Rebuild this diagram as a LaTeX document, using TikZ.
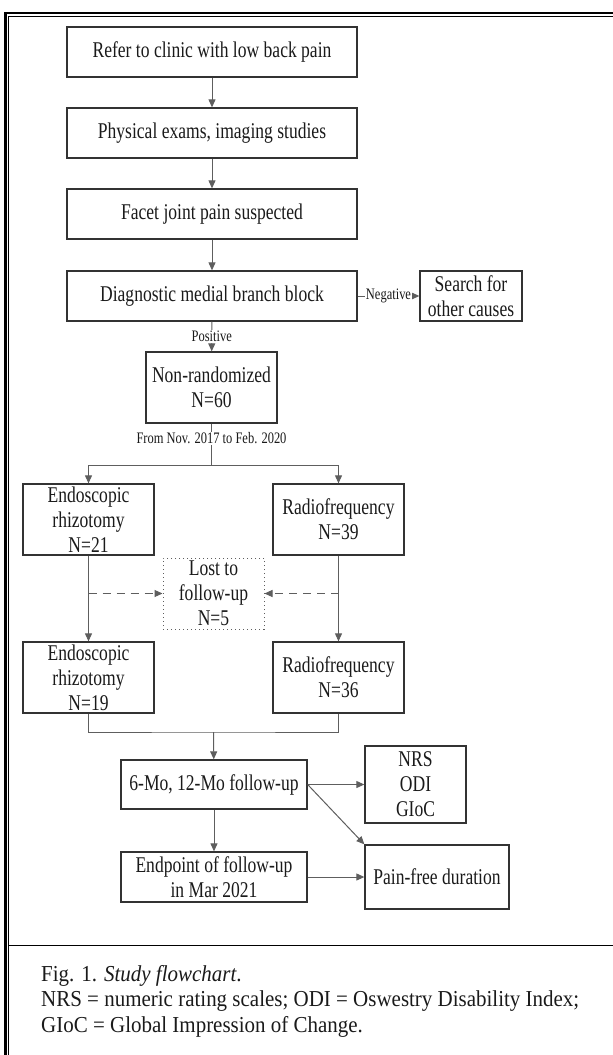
\documentclass[tikz,border=0pt]{standalone}
\usepackage{fontspec}
\setmainfont{Liberation Serif}[FakeStretch=0.78]
\newfontfamily\capfont{Liberation Serif}[FakeStretch=0.92]
\usepackage{xcolor}
\definecolor{fcline}{HTML}{333333}
\definecolor{fcarrow}{HTML}{5E5E5E}
\definecolor{fctext}{HTML}{1A1A1A}
\usepackage{tikz}
\usetikzlibrary{arrows.meta,positioning,calc}

\begin{document}
\begin{tikzpicture}[x=1pt,y=-1pt,font=\fontsize{22.5}{25}\selectfont,text=fctext,
 box/.style={draw=fcline,line width=1.3pt,inner sep=0pt,align=center},
 arr/.style={-{Triangle[length=8pt,width=7pt]},draw=fcarrow,line width=1pt},
 link/.style={draw=fcarrow,line width=1pt},
 dasharr/.style={arr,dash pattern=on 8pt off 6pt},
 lbl/.style={fill=white,inner sep=1pt,font=\fontsize{16}{18}\selectfont}]
\useasboundingbox (0,0) rectangle (613,1055);
% frame
\draw[line width=2.5pt] (5.5,1055) -- (5.5,13) -- (613,13);
\draw[line width=1pt] (8.5,1055) -- (8.5,16.5) -- (613,16.5);
\draw[line width=1pt] (8.5,945) -- (613,945);
% main column
\node[box,minimum width=290,minimum height=50] (a) at (212,52) {Refer to clinic with low back pain};
\node[box,minimum width=290,minimum height=50] (b) at (212,133) {Physical exams, imaging studies};
\node[box,minimum width=290,minimum height=50] (c) at (212,214) {Facet joint pain suspected};
\node[box,minimum width=290,minimum height=50] (d) at (212,296) {Diagnostic medial branch block};
\node[box,minimum width=102,minimum height=50] (e) at (471,296) {Search for\\other causes};
\node[box,minimum width=131,minimum height=71] (f) at (211.5,387.5) {Non-randomized\\N=60};
% two arms
\node[box,minimum width=131,minimum height=71] (g) at (88.5,519.5) {Endoscopic\\rhizotomy\\N=21};
\node[box,minimum width=131,minimum height=71] (h) at (338.5,519.5) {Radiofrequency\\N=39};
\node[box,draw=fcarrow,line width=1pt,dash pattern=on 1pt off 3pt,%
  minimum width=101,minimum height=71] (i) at (213.5,593.5) {Lost to\\follow-up\\N=5};
\node[box,minimum width=131,minimum height=71] (j) at (88.5,677.5) {Endoscopic\\rhizotomy\\N=19};
\node[box,minimum width=131,minimum height=71] (k) at (338.5,677.5) {Radiofrequency\\N=36};
% follow-up
\node[box,minimum width=186,minimum height=49] (l) at (214,784.5) {6-Mo, 12-Mo follow-up};
\node[box,minimum width=186,minimum height=50] (m) at (214,877) {Endpoint of follow-up\\in Mar 2021};
\node[box,minimum width=101,minimum height=77] (n) at (415.5,784.5) {NRS\\ODI\\GIoC};
\node[box,minimum width=144,minimum height=64] (o) at (437,877) {Pain-free duration};
\coordinate (split) at (211.5,465);
\coordinate (merge) at (213.5,732);
\draw[arr] (a)--(b);%
\draw[arr] (b)--(c);%
\draw[arr] (c)--(d);
\draw[arr] (d)--node[lbl]{Negative}(e);
\draw[arr] (d)--node[lbl]{Positive}(f);
\draw[link] (f.south)--node[lbl,pos=0.36]{From Nov. 2017 to Feb. 2020}(split);
\draw[arr] (split)-|(g.north);%
\draw[arr] (split)-|(h.north);
\draw[arr] (g)--(j);%
\draw[arr] (h)--(k);
\draw[dasharr] (g.south |- i.west)--(i.west);%
\draw[dasharr] (h.south |- i.east)--(i.east);
\draw[link] (j.south)|-(merge)-|(k.south);
\draw[arr] (merge)--(l);
\draw[arr] (l)--(m);
\draw[arr] (l.east)--(n.west);%
\draw[arr] (l.east)--(o.north west);%
\draw[arr] (m.east)--(o.west);
% caption
\node[anchor=north west,align=left,inner sep=0pt,font=\capfont\fontsize{22.8}{25.5}\selectfont] (cap) at (41,965)
  {Fig. 1. \textit{Study flowchart}.\\%
   NRS = numeric rating scales; ODI = Oswestry Disability Index;\\%
   GIoC = Global Impression of Change.};
\end{tikzpicture}
\end{document}
